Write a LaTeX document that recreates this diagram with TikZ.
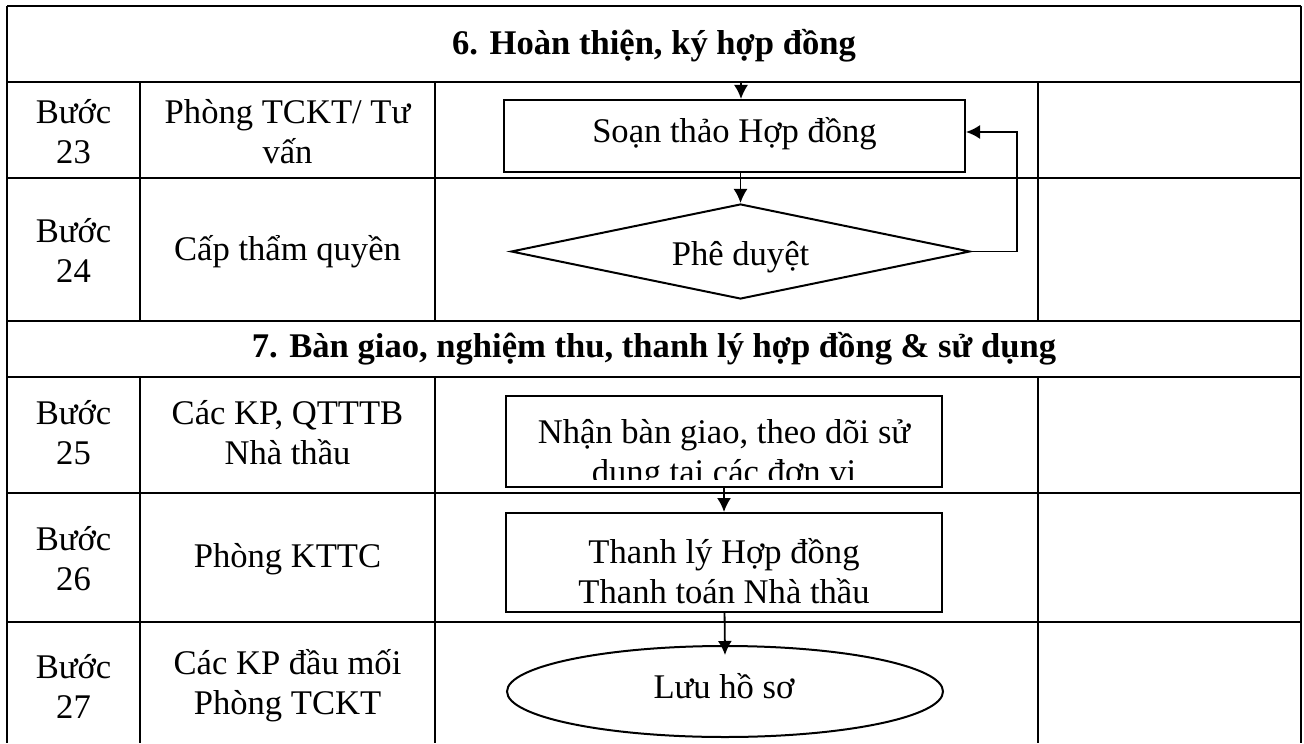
\documentclass[tikz,border=0pt]{standalone}
\usepackage{fontspec}
\setmainfont{Liberation Serif}
\usetikzlibrary{shapes.geometric,arrows.meta}
\tikzset{
  tableline/.style={line width=1.2pt},
  cell/.style={align=center, inner sep=0pt, font=\fontsize{17.3}{20}\selectfont},
  heading/.style={cell, font=\fontsize{17.3}{20}\selectfont\bfseries},
  procbox/.style={rectangle, draw, line width=1pt, inner sep=0pt},
  decision/.style={diamond, draw, line width=1pt, inner sep=0pt},
  terminal/.style={ellipse, draw, line width=1pt, inner sep=0pt},
  flow/.style={line width=0.9pt, -{Latex[length=7pt,width=7pt]}},
}
\begin{document}
\begin{tikzpicture}[x=0.5pt, y=-0.5pt]
        \useasboundingbox (0,0) rectangle (1304,743);

        % Table
        \draw[tableline] (7,6) -- (1301,6);
        \draw[tableline] (7,82) -- (1301,82);
        \draw[tableline] (7,178) -- (1301,178);
        \draw[tableline] (7,321) -- (1301,321);
        \draw[tableline] (7,377) -- (1301,377);
        \draw[tableline] (7,493) -- (1301,493);
        \draw[tableline] (7,622) -- (1301,622);
        \draw[tableline] (7,6) -- (7,743);
        \draw[tableline] (1301,6) -- (1301,743);
        \draw[tableline] (140,82) -- (140,321);
        \draw[tableline] (435,82) -- (435,321);
        \draw[tableline] (1038,82) -- (1038,321);
        \draw[tableline] (140,377) -- (140,743);
        \draw[tableline] (435,377) -- (435,743);
        \draw[tableline] (1038,377) -- (1038,743);

        % Headings
        \node (sec6) [heading] at (654,46) {6. Hoàn thiện, ký hợp đồng};
        \node (sec7) [heading] at (654,349) {7. Bàn giao, nghiệm thu, thanh lý hợp đồng \& sử dụng};

        % Steps
        \node (b23) [cell] at (73.5,132) {Bước\\23};
        \node (b24) [cell] at (73.5,250) {Bước\\24};
        \node (b25) [cell] at (73.5,433) {Bước\\25};
        \node (b26) [cell] at (73.5,559) {Bước\\26};
        \node (b27) [cell] at (73.5,686) {Bước\\27};

        % Units
        \node (u23) [cell] at (287.5,132) {Phòng TCKT/ Tư\\vấn};
        \node (u24) [cell] at (287.5,252) {Cấp thẩm quyền};
        \node (u25) [cell] at (287.5,433) {Các KP, QTTTB\\Nhà thầu};
        \node (u26) [cell] at (287.5,559) {Phòng KTTC};
        \node (u27) [cell] at (287.5,686) {Các KP đầu mối\\Phòng TCKT};

        % Flow
        \node (soan) [procbox, minimum width=230.5pt, minimum height=36pt] at (734.5,136) {};
        \node (soantext) [cell] at (734.5,134) {Soạn thảo Hợp đồng};
        \node (duyet) [decision, minimum width=229.5pt, minimum height=47.5pt] at (740.5,251.5) {};
        \node (duyettext) [cell] at (740.5,257) {Phê duyệt};
        \node (nhan) [procbox, minimum width=218pt, minimum height=45.5pt] at (724,441.5) {};
        \begin{scope}
            \clip (nhan.north west) rectangle ([yshift=4.5pt]nhan.south east);
            \node (nhantext) [cell] at (724,455) {Nhận bàn giao, theo dõi sử\\dụng tại các đơn vị};
        \end{scope}
        \node (thanh) [procbox, minimum width=218pt, minimum height=49.5pt] at (724,562.5) {};
        \node (thanhtext) [cell] at (724,571) {Thanh lý Hợp đồng\\Thanh toán Nhà thầu};
        \node (luu) [terminal, minimum width=218pt, minimum height=45.5pt] at (725,691.5) {};
        \node (luutext) [cell] at (724,686) {Lưu hồ sơ};

        % Edges
        \coordinate (entry) at (741,82);
        \draw[flow] (entry) -- (entry |- soan.north);
        \draw[flow] (duyet.north |- soan.south) -- (duyet.north);
        \draw[flow] (duyet.east) -- ++(46,0) |- ([yshift=2pt]soan.east);
        \draw[flow] (nhan) -- (thanh);
        \draw[flow] (thanh) -- ([yshift=-5pt]luu.north);

\end{tikzpicture}
\end{document}
